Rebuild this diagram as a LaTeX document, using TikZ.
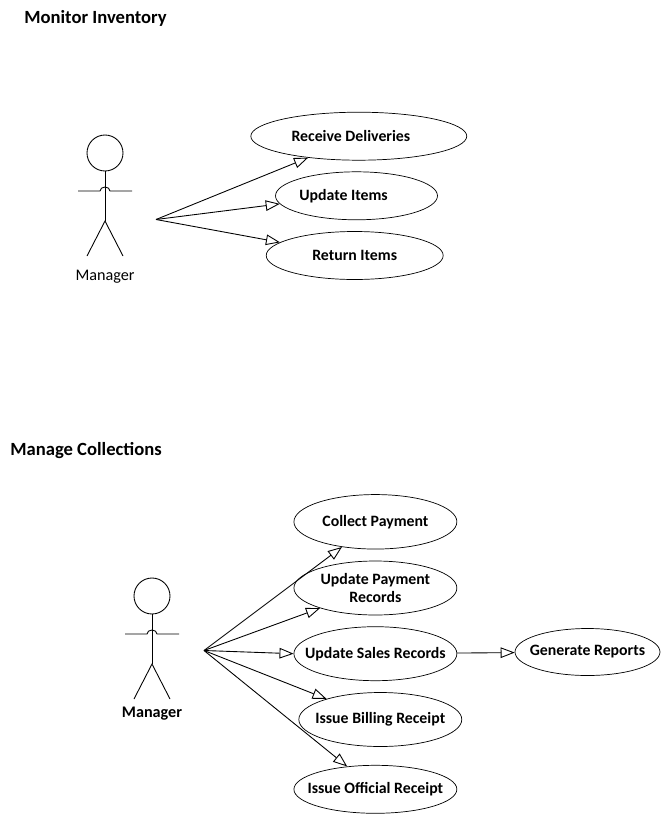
\documentclass[tikz,border=0pt]{standalone}
\usepackage{fontspec}
\setmainfont{Carlito}
\usetikzlibrary{arrows.meta,shapes.geometric}

\tikzset{
    usecase/.style={draw, ellipse, inner xsep=-1.5cm, inner ysep=-0.3cm, align=center, font={\fontsize{9}{10.8}\selectfont\bfseries}},
    heading/.style={anchor=west, inner sep=0pt, font={\fontsize{10.6}{12}\selectfont\bfseries}},
    assoc/.style={line width=0.5pt, -{Triangle[open, length=8pt, width=6pt]}},
    stick/.style={line width=0.5pt},
    stickman/.pic={
        \draw[stick] (0,-18) circle (18);
        \draw[stick] (0,0) -- (0,50);
        \draw[stick] (-27,20) -- (-5,20) arc (180:360:5 and 4) -- (27,20);
        \draw[stick] (-18,85) -- (0,50) -- (18,85);
    }
}

\begin{document}
\begin{tikzpicture}[x=0.02cm, y=-0.02cm]
    \useasboundingbox (0,0) rectangle (661,815);

    % first diagram
    \node[heading] (monitor) at (24,18) {Monitor Inventory};
    \pic at (105,171) {stickman};
    \node[font={\fontsize{9.2}{10}\selectfont}] (managerA) at (105,276.5) {Manager};
    \coordinate (hubA) at (156,219.5);
    \node[usecase, minimum width=4.32cm, minimum height=0.96cm] (receive) at (358.8,136.2) {Receive Deliveries\hspace*{9pt}};
    \node[usecase, minimum width=3.24cm, minimum height=0.96cm] (updateitems) at (356.5,195.8) {Update Items\hspace*{14.8pt}};
    \node[usecase, minimum width=3.54cm, minimum height=0.96cm] (returnitems) at (354.7,255.5) {Return Items};
    \draw[assoc] (hubA) -- (receive.203);
    \draw[assoc] (hubA) -- (updateitems.186);
    \draw[assoc] (hubA) -- (returnitems.170);

    % second diagram
    \node[heading] (manage) at (10,451) {Manage Collections};
    \pic at (152,614) {stickman};
    \node[font={\fontsize{9.2}{10}\selectfont\bfseries}] (managerB) at (152,713.5) {Manager};
    \coordinate (hubB) at (204,650.5);
    \node[usecase, minimum width=3.26cm, minimum height=1.09cm] (collect) at (375.4,521.8) {Collect Payment};
    \node[usecase, minimum width=3.26cm, minimum height=1.08cm] (updatepay) at (375.4,588) {Update Payment\\Records};
    \node[usecase, minimum width=3.26cm, minimum height=1.08cm] (updatesales) at (375.4,653.7) {Update Sales Records};
    \node[usecase, minimum width=2.9cm, minimum height=0.94cm] (generate) at (587.5,652) {Generate Reports};
    \node[usecase, minimum width=3.26cm, minimum height=1.08cm] (billing) at (380.3,719.5) {Issue Billing Receipt};
    \node[usecase, minimum width=3.26cm, minimum height=0.96cm] (official) at (375.4,789.3) {Issue Official Receipt};
    \draw[assoc] (hubB) -- (collect.217);
    \draw[assoc] (hubB) -- (updatepay.200);
    \draw[assoc] (hubB) -- (updatesales.180);
    \draw[assoc] (hubB) -- (billing.159);
    \draw[assoc] (hubB) -- (official.141);
    \draw[assoc] (updatesales) -- (generate);
\end{tikzpicture}
\end{document}
